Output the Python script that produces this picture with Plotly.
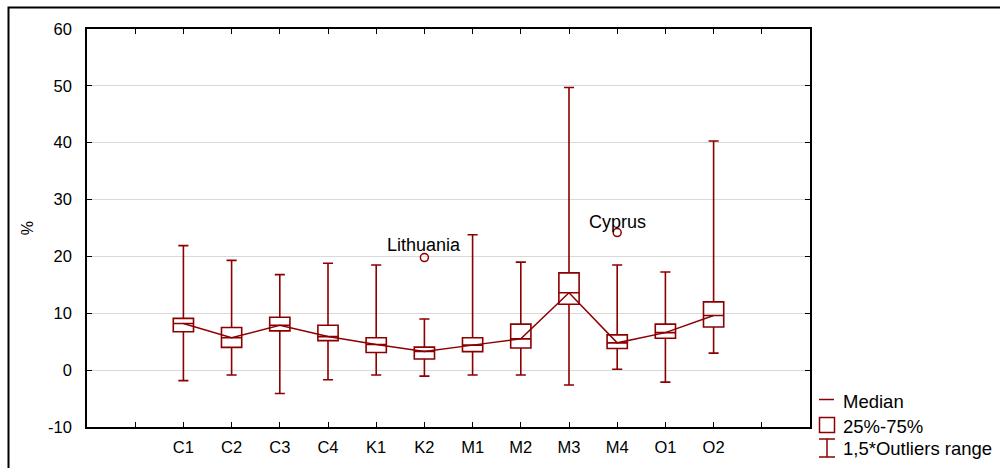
import plotly.graph_objects as go

categories = ["C1", "C2", "C3", "C4", "K1", "K2", "M1", "M2", "M3", "M4", "O1", "O2"]
q1 = [6.75, 4.0, 6.9, 5.2, 3.1, 1.95, 3.25, 3.9, 11.6, 3.8, 5.6, 7.6]
median = [8.2, 5.7, 7.9, 5.9, 4.5, 3.3, 4.4, 5.5, 13.6, 4.8, 6.6, 9.6]
q3 = [9.1, 7.5, 9.3, 7.9, 5.7, 4.05, 5.7, 8.1, 17.1, 6.2, 8.1, 12.0]
lower = [-1.85, -0.85, -4.1, -1.7, -0.85, -1.05, -0.85, -0.85, -2.6, 0.15, -2.1, 3.0]
upper = [21.9, 19.3, 16.8, 18.8, 18.5, 9.0, 23.8, 19.0, 49.7, 18.5, 17.25, 40.3]
outlier_cat = ["K2", "M4"]
outlier_val = [19.8, 24.2]
outlier_name = ["Lithuania", "Cyprus"]
y_ticks = [-10, 0, 10, 20, 30, 40, 50, 60]
y_ticktext = ["-10", "0", "10", "20", "30", "40", "50", "60"]

RED = "#8b0000"
FONT = "Liberation Sans, Arial, sans-serif"

xpos = list(range(len(categories)))
fig = go.Figure()
for i, c in enumerate(categories):
    fig.add_trace(go.Box(
        x=[xpos[i]], q1=[q1[i]], median=[median[i]], q3=[q3[i]],
        lowerfence=[lower[i]], upperfence=[upper[i]],
        width=0.42, whiskerwidth=0.5,
        line=dict(color=RED, width=1.6), fillcolor="rgba(255,255,255,0)",
        boxpoints=False, showlegend=False, hoverinfo="skip", name=c))

fig.add_trace(go.Scatter(x=xpos, y=median, mode="lines",
                         line=dict(color=RED, width=1.5), showlegend=False))

ox = [categories.index(c) for c in outlier_cat]
fig.add_trace(go.Scatter(x=ox, y=outlier_val, mode="markers",
                         marker=dict(symbol="circle-open", size=8, color=RED, line=dict(width=1.5)),
                         showlegend=False))
for xo, yo, name, shift in zip(ox, outlier_val, outlier_name, [13, 11]):
    fig.add_annotation(x=xo, y=yo, text=name, showarrow=False, yshift=shift,
                       xanchor="center", yanchor="middle",
                       font=dict(family=FONT, size=18, color="black"))

tickvals = [-1] + xpos + [len(categories)]
ticktext = [""] + categories + [""]

fig.update_layout(
    width=1000, height=468,
    margin=dict(l=87, r=190, t=29, b=41),
    paper_bgcolor="white", plot_bgcolor="white",
    font=dict(family=FONT, size=16, color="black"),
    showlegend=False,
    xaxis=dict(range=[-2, len(categories) + 1], tickmode="array", tickvals=tickvals,
               ticktext=ticktext, ticks="inside", ticklen=5, tickcolor="black",
               showline=True, linecolor="black", linewidth=1.5, mirror="ticks",
               showgrid=False, zeroline=False, tickfont=dict(size=16.5),
               ticklabelstandoff=4),
    yaxis=dict(range=[-10, 60], tickmode="array", tickvals=y_ticks, ticktext=y_ticktext,
               ticks="inside", ticklen=5, tickcolor="black",
               showline=True, linecolor="black", linewidth=1.5, mirror="ticks",
               showgrid=True, gridcolor="#d9d9d9", gridwidth=1.2, zeroline=False,
               tickfont=dict(size=16.5), ticklabelstandoff=10,
               title=dict(text="%", standoff=10, font=dict(size=16))),
)

# outer frame
fig.add_shape(type="rect", xref="paper", yref="paper",
              x0=(8.5 - 87) / 723, x1=(1010 - 87) / 723,
              y0=-0.2, y1=1 + 21.5 / 398, line=dict(color="black", width=2))

# legend (drawn manually)
def px(xp):
    return (xp - 87) / 723
def py(yp):
    return (427 - yp) / 398

fig.add_shape(type="line", xref="paper", yref="paper", x0=px(819), x1=px(834),
              y0=py(399.5), y1=py(399.5), line=dict(color=RED, width=1.5))
fig.add_shape(type="rect", xref="paper", yref="paper", x0=px(819.5), x1=px(834.5),
              y0=py(432.5), y1=py(417.5), line=dict(color=RED, width=1.5))
fig.add_shape(type="line", xref="paper", yref="paper", x0=px(827), x1=px(827),
              y0=py(439), y1=py(457), line=dict(color=RED, width=1.5))
fig.add_shape(type="line", xref="paper", yref="paper", x0=px(819), x1=px(835),
              y0=py(439), y1=py(439), line=dict(color=RED, width=1.5))
fig.add_shape(type="line", xref="paper", yref="paper", x0=px(819), x1=px(835),
              y0=py(457), y1=py(457), line=dict(color=RED, width=1.5))
for label, yp in [("Median", 401), ("25%-75%", 426), ("1,5*Outliers range", 448)]:
    fig.add_annotation(xref="paper", yref="paper", x=px(841), y=py(yp), text=label,
                       showarrow=False, xanchor="left", yanchor="middle",
                       font=dict(family=FONT, size=18.5, color="black"))

fig.write_html("out.html", config={"displayModeBar": False})

with open("out.html", "r", encoding="utf-8") as f:
    html = f.read()
html = html.replace("<body>", '<body style="margin:0;padding:0">', 1)
html = html.replace("<head>", "<head><style>html,body{margin:0;padding:0;}</style>", 1)
with open("out.html", "w", encoding="utf-8") as f:
    f.write(html)
